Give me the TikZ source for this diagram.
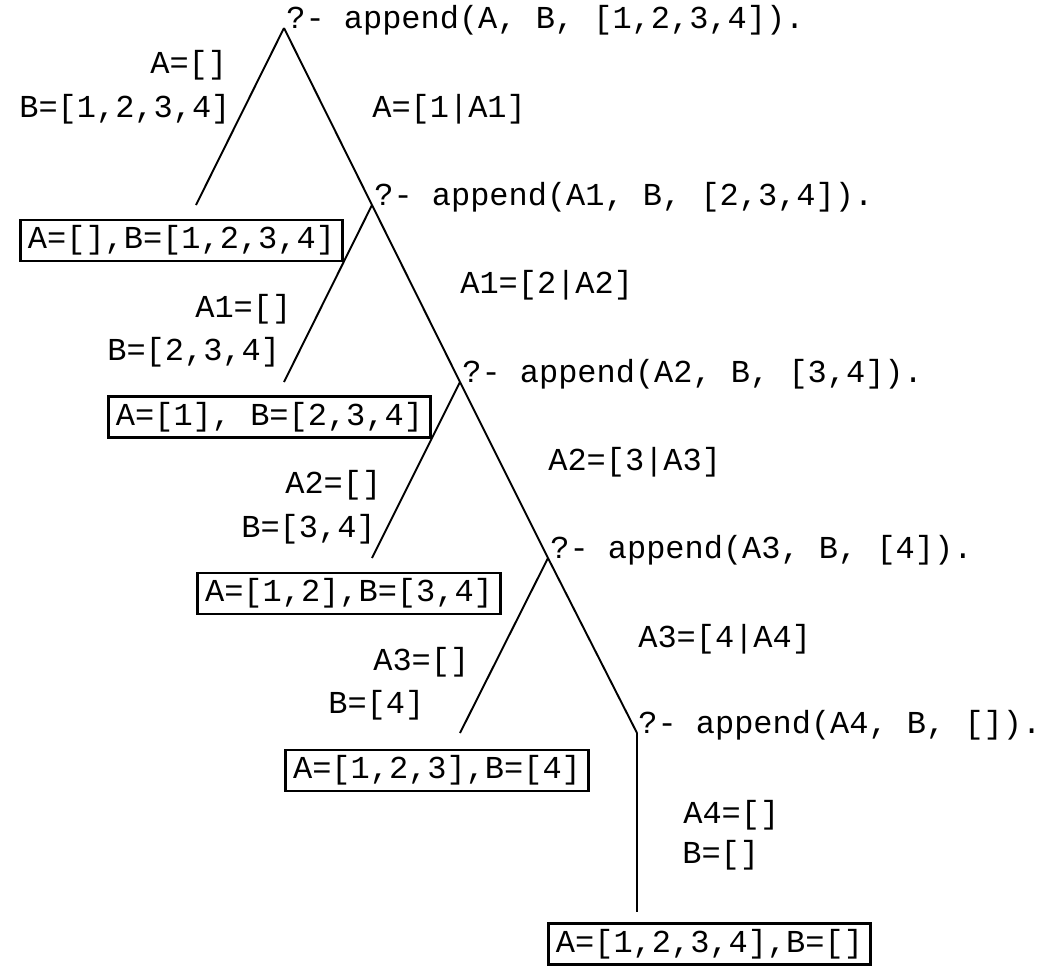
\documentclass[tikz,border=0pt]{standalone}
\usepackage{fontspec}
\setmonofont{Liberation Mono}
\newcommand{\plfont}{\ttfamily\fontsize{18.2}{22}\selectfont}

\begin{document}
\begin{tikzpicture}[x=0.02cm,y=-0.02cm,
  goal/.style={anchor=base west,inner sep=0pt,font=\plfont},
  subst/.style={anchor=base west,inner sep=0pt,font=\plfont},
  answer/.style={draw,line width=1.5pt,inner xsep=4.3pt,inner ysep=0pt,minimum height=0.82cm,font=\plfont},
  branch/.style={line width=1.1pt},
  lastbranch/.style={line width=1.6pt}]
\useasboundingbox (0,0) rectangle (1045,965);

\coordinate (g0) at (284,28);
\coordinate (g1) at (372,205);
\coordinate (g2) at (460,382);
\coordinate (g3) at (548,558);
\coordinate (g4) at (637,733);
\coordinate (e0) at (196,205);
\coordinate (e1) at (284,382);
\coordinate (e2) at (372,558);
\coordinate (e3) at (460,733);
\coordinate (e4) at (637,912);

\node[goal] (q0) at (286,28) {?- append(A, B, [1,2,3,4]).};
\node[goal] (q1) at (374,205) {?- append(A1, B, [2,3,4]).};
\node[goal] (q2) at (462,382) {?- append(A2, B, [3,4]).};
\node[goal] (q3) at (550,558) {?- append(A3, B, [4]).};
\node[goal] (q4) at (638,733) {?- append(A4, B, []).};

\node[subst] (lA0) at (150,73) {A=[]};
\node[subst] (lB0) at (19,117) {B=[1,2,3,4]};
\node[subst] (r0) at (372,117) {A=[1|A1]};
\node[subst] (lA1) at (195,317) {A1=[]};
\node[subst] (lB1) at (107,360) {B=[2,3,4]};
\node[subst] (r1) at (460,293) {A1=[2|A2]};
\node[subst] (lA2) at (285,493) {A2=[]};
\node[subst] (lB2) at (241,537) {B=[3,4]};
\node[subst] (r2) at (548,470) {A2=[3|A3]};
\node[subst] (lA3) at (373,670) {A3=[]};
\node[subst] (lB3) at (328,713) {B=[4]};
\node[subst] (r3) at (638,647) {A3=[4|A4]};
\node[subst] (lA4) at (683,823) {A4=[]};
\node[subst] (lB4) at (682,863) {B=[]};

\node[answer] (a0) at (181.5,240.5) {A=[],B=[1,2,3,4]};
\node[answer] (a1) at (269.5,417) {A=[1], B=[2,3,4]};
\node[answer] (a2) at (349,593.5) {A=[1,2],B=[3,4]};
\node[answer] (a3) at (437,770.5) {A=[1,2,3],B=[4]};
\node[answer] (a4) at (709.5,944) {A=[1,2,3,4],B=[]};

\draw[branch] (g0) -- (e0);
\draw[branch] (g0) -- (g1);
\draw[branch] (g1) -- (e1);
\draw[branch] (g1) -- (g2);
\draw[branch] (g2) -- (e2);
\draw[branch] (g2) -- (g3);
\draw[branch] (g3) -- (e3);
\draw[branch] (g3) -- (g4);
\draw[lastbranch] (g4) -- (e4);
\end{tikzpicture}
\end{document}
